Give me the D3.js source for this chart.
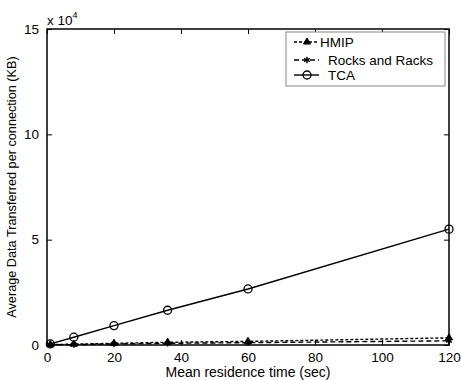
<!DOCTYPE html>
<html lang="en">
<head>
<meta charset="utf-8">
<title>Data transferred per connection</title>
<script src="https://cdnjs.cloudflare.com/ajax/libs/d3/7.8.5/d3.min.js"></script>
<style>
  body { margin: 0; background: #fff; }
  text { font-family: "Liberation Sans", Arial, sans-serif; fill: #000; }
</style>
</head>
<body>
<script>
// residence times (sec) and data per connection (units of 10^4 KB)
var times = [1, 8, 20, 36, 60, 120];
var hmip = [0.02, 0.04, 0.08, 0.13, 0.17, 0.34];
var rocks = [0.01, 0.02, 0.05, 0.08, 0.11, 0.2];
var tca = [0.05, 0.37, 0.92, 1.65, 2.66, 5.5];
var xTicks = [0, 20, 40, 60, 80, 100, 120];
var yTicks = [0, 5, 10, 15];

var series = [
  {name: "HMIP", values: hmip, dash: "3,2", marker: "tri"},
  {name: "Rocks and Racks", values: rocks, dash: "5,3", marker: "star"},
  {name: "TCA", values: tca, dash: null, marker: "circle"}
];

var margin = {top: 29, right: 12, bottom: 35, left: 47},
    width = 461 - margin.left - margin.right,
    height = 380 - margin.top - margin.bottom;

var svg = d3.select("body").append("svg")
    .attr("width", 461)
    .attr("height", 380);

var g = svg.append("g")
    .attr("transform", "translate(" + margin.left + "," + margin.top + ")");

var x = d3.scaleLinear().domain([0, 120]).range([0, width]);
var y = d3.scaleLinear().domain([0, 15]).range([height, 0]);

// frame
g.append("rect")
    .attr("width", width).attr("height", height)
    .attr("fill", "none").attr("stroke", "#000").attr("stroke-width", 1.5);

// axes with inward ticks
g.append("g")
    .attr("transform", "translate(0," + height + ")")
    .call(d3.axisBottom(x).tickValues(xTicks).tickSizeInner(-5).tickSizeOuter(0).tickPadding(7))
    .call(function(a) { a.select(".domain").remove(); a.selectAll("text").attr("font-size", 13.5); });
g.append("g")
    .call(d3.axisTop(x).tickValues(xTicks).tickSizeInner(-5).tickSizeOuter(0).tickFormat(""))
    .call(function(a) { a.select(".domain").remove(); });
g.append("g")
    .call(d3.axisLeft(y).tickValues(yTicks).tickSizeInner(-5).tickSizeOuter(0).tickPadding(8))
    .call(function(a) { a.select(".domain").remove(); a.selectAll("text").attr("font-size", 13.5); });
g.append("g")
    .attr("transform", "translate(" + width + ",0)")
    .call(d3.axisRight(y).tickValues(yTicks).tickSizeInner(-5).tickSizeOuter(0).tickFormat(""))
    .call(function(a) { a.select(".domain").remove(); });

// multiplier
var mult = svg.append("text").attr("x", 47).attr("y", 25).attr("font-size", 13.5);
mult.append("tspan").text("x 10");
mult.append("tspan").attr("dy", -7).attr("font-size", 9).text("4");

// axis titles
svg.append("text")
    .attr("x", 248).attr("y", 377)
    .attr("text-anchor", "middle").attr("font-size", 14)
    .text("Mean residence time (sec)");
svg.append("text")
    .attr("transform", "translate(16," + (margin.top + height / 2) + ") rotate(-90)")
    .attr("text-anchor", "middle").attr("font-size", 12.7)
    .text("Average Data Transferred per connection (KB)");

function drawMarker(sel, type) {
  if (type === "circle") {
    sel.append("circle").attr("r", 4).attr("fill", "none").attr("stroke", "#000").attr("stroke-width", 1.3);
  } else if (type === "tri") {
    sel.append("path").attr("d", d3.symbol().type(d3.symbolTriangle).size(22))
      .attr("fill", "#000").attr("stroke", "#000").attr("stroke-width", 1);
  } else {
    sel.append("path").attr("d", d3.symbol().type(d3.symbolAsterisk).size(30))
      .attr("fill", "none").attr("stroke", "#000").attr("stroke-width", 1.4);
  }
}

var line = d3.line()
    .x(function(d) { return x(d[0]); })
    .y(function(d) { return y(d[1]); });

series.forEach(function(s) {
  var pts = times.map(function(t, i) { return [t, s.values[i]]; });
  g.append("path")
      .datum(pts)
      .attr("d", line)
      .attr("fill", "none")
      .attr("stroke", "#000")
      .attr("stroke-width", 1.4)
      .attr("stroke-dasharray", s.dash);
  g.selectAll(null)
      .data(pts)
      .enter().append("g")
      .attr("transform", function(d) { return "translate(" + x(d[0]) + "," + y(d[1]) + ")"; })
      .each(function() { drawMarker(d3.select(this), s.marker); });
});

// legend
var legend = svg.append("g").attr("transform", "translate(286,32)");
legend.append("rect")
    .attr("width", 159).attr("height", 54)
    .attr("fill", "#fff").attr("stroke", "#888").attr("stroke-width", 1);
var rowY = [10, 28, 43];
series.forEach(function(s, i) {
  var row = legend.append("g").attr("transform", "translate(0," + rowY[i] + ")");
  row.append("line")
      .attr("x1", 8).attr("x2", 33)
      .attr("stroke", "#000").attr("stroke-width", 1.4)
      .attr("stroke-dasharray", s.dash);
  var m = row.append("g").attr("transform", "translate(21,0)");
  drawMarker(m, s.marker);
  row.append("text")
      .attr("x", i === 0 ? 34 : 42).attr("y", 5)
      .attr("font-size", 13.5)
      .text(s.name);
});
</script>
</body>
</html>
